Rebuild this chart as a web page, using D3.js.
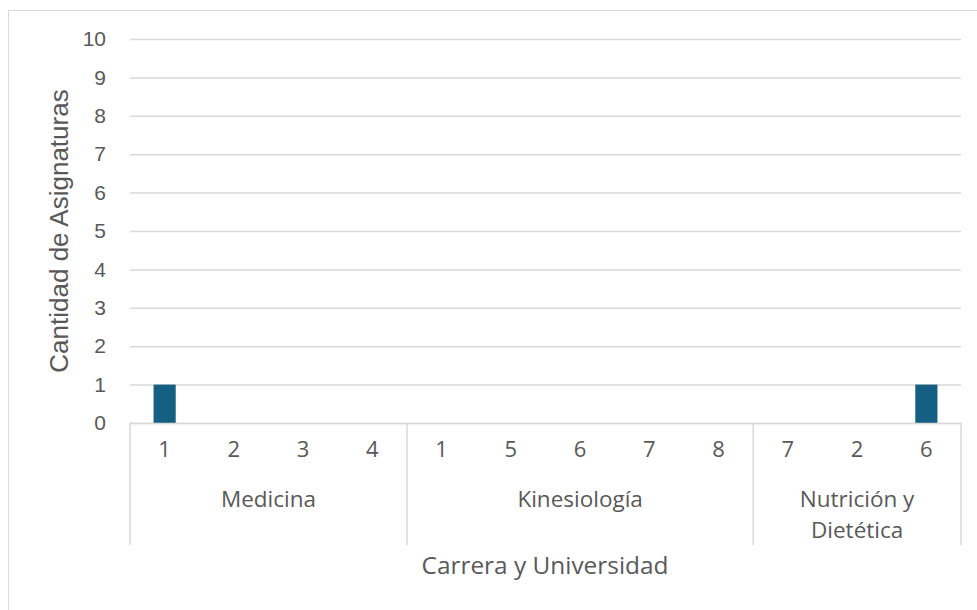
<!DOCTYPE html>
<html><head><meta charset="utf-8">
<script src="https://cdn.jsdelivr.net/npm/d3@7"></script>
<style>
body{margin:0;background:#fff;}
svg{display:block;}
text{fill:#595959;}
</style></head>
<body>
<svg id="c" width="977" height="610"></svg>
<script>
const groups = ["Medicina", "Kinesiología", "Nutrición y Dietética"];
const subLabels = [["1","2","3","4"],["1","5","6","7","8"],["7","2","6"]];
const values = [[1,0,0,0],[0,0,0,0,0],[0,0,1]];
const yTicks = [0,1,2,3,4,5,6,7,8,9,10];
const yTitle = "Cantidad de Asignaturas";
const xTitle = "Carrera y Universidad";

(function(){
const items = [];
groups.forEach((g,gi)=>subLabels[gi].forEach((s,si)=>items.push({id:gi+"-"+si, g:gi, label:s, value:values[gi][si]})));

const svg = d3.select("#c");
const pL=130, pR=961, pT=39, pB=423;
const x = d3.scaleBand().domain(items.map(d=>d.id)).range([pL,pR]).paddingInner(0.68).paddingOuter(0.34);
const y = d3.scaleLinear().domain([0,10]).range([pB,pT]);
const grid="#d9d9d9";
const arial="'Liberation Sans', Arial, sans-serif";
const aptos="'Open Sans', 'Noto Sans', sans-serif";

svg.append("rect").attr("x",8.5).attr("y",10.5).attr("width",1100).attr("height",800).attr("fill","none").attr("stroke",grid);

const ya = svg.append("g").attr("transform",`translate(${pL},0)`)
  .call(d3.axisLeft(y).tickValues(yTicks).tickSize(-(pR-pL)).tickPadding(24));
ya.select(".domain").remove();
ya.selectAll("line").attr("stroke",grid).attr("stroke-width",1.5);
ya.selectAll("text").attr("font-family",arial).attr("font-size",21).attr("fill","#595959");

svg.append("g").selectAll("rect").data(items).join("rect")
  .attr("x",d=>x(d.id)).attr("width",x.bandwidth())
  .attr("y",d=>y(d.value)).attr("height",d=>y(0)-y(d.value))
  .attr("fill","#156082");

const xa = svg.append("g").attr("transform",`translate(0,${pB})`)
  .call(d3.axisBottom(x).tickSize(0).tickPadding(18).tickFormat(id=>items.find(d=>d.id===id).label));
xa.select(".domain").attr("stroke",grid).attr("stroke-width",1.5);
xa.selectAll("text").attr("font-family",aptos).attr("font-size",22).attr("fill","#595959");

const step = x.step();
let start = 0;
const bounds=[pL];
groups.forEach((g,gi)=>{
  const n = subLabels[gi].length;
  const x0 = pL + start*step, x1 = pL + (start+n)*step;
  bounds.push(x1);
  const cx=(x0+x1)/2;
  const words = g.split(" ");
  let lines = [g];
  if (words.length>2){ lines=[words.slice(0,2).join(" "), words.slice(2).join(" ")]; }
  const t = svg.append("text").attr("x",cx).attr("y",507).attr("text-anchor","middle")
    .attr("font-family",aptos).attr("font-size",22.5);
  lines.forEach((l,i)=>t.append("tspan").attr("x",cx).attr("dy",i?31:0).text(l));
  start+=n;
});
svg.append("g").selectAll("line").data(bounds).join("line")
  .attr("x1",d=>d).attr("x2",d=>d).attr("y1",pB).attr("y2",545)
  .attr("stroke",grid).attr("stroke-width",1.5);

svg.append("text").attr("x",545).attr("y",574).attr("text-anchor","middle")
  .attr("font-family",aptos).attr("font-size",24.4).text(xTitle);
svg.append("text").attr("transform","translate(68,231) rotate(-90)").attr("text-anchor","middle")
  .attr("font-family",arial).attr("font-size",26).text(yTitle);
})();
</script>
</body></html>
